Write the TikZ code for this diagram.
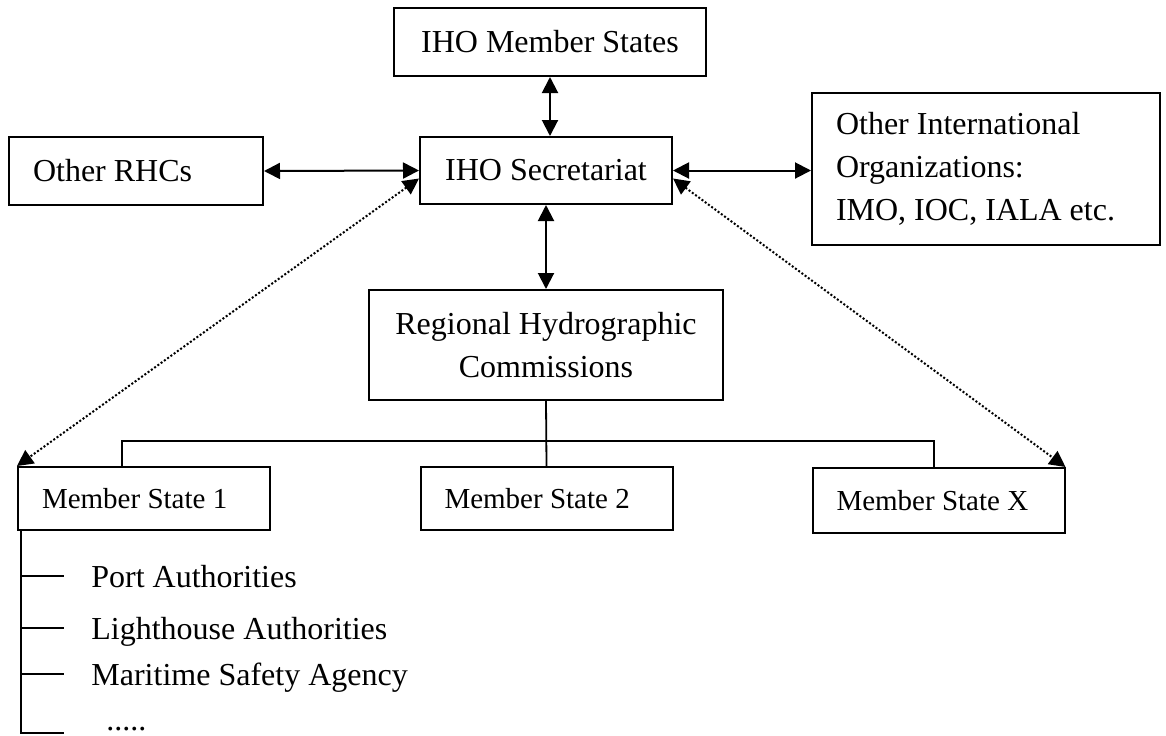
\documentclass[tikz,border=0pt]{standalone}
\usepackage{fontspec}
\setmainfont{Liberation Serif}
\usetikzlibrary{arrows.meta}

\tikzset{
  box/.style={draw, line width=1pt, inner xsep=12pt, inner ysep=0pt,
    font=\fontsize{16}{21.5}\selectfont},
  leftbox/.style={box, align=flush left},
  statebox/.style={leftbox, text width=102pt, minimum height=31.5pt,
    font=\fontsize{14.5}{17}\selectfont},
  twoway/.style={line width=1pt,
    {Triangle[length=8pt,width=8pt]}-{Triangle[length=8pt,width=8pt]}},
  dotlink/.style={twoway, dash pattern=on 1pt off 1pt},
  treeline/.style={line width=0.9pt},
  item/.style={inner sep=0pt, anchor=west, text height=11pt, text depth=0pt,
    font=\fontsize{16}{20}\selectfont}
}

\begin{document}
\begin{tikzpicture}[x=0.5pt, y=-0.5pt]
  \useasboundingbox (0,0) rectangle (1166,735);

  \node[box, minimum width=156pt, minimum height=34pt] (ihoms) at (550,42) {IHO Member States};
  \node[box, minimum width=126pt, minimum height=33.5pt] (sec) at (546,170.5) {IHO Secretariat};
  \node[leftbox, text width=103pt, minimum height=34pt] (rhcs) at (136,171) {Other RHCs};
  \node[leftbox, text width=150pt, minimum height=76pt] (orgs) at (986,169)
    {Other International\\Organizations:\\IMO, IOC, IALA etc.};
  \node[box, align=center, minimum width=177pt, minimum height=55pt] (rhc) at (546,345)
    {Regional Hydrographic\\Commissions};
  \node[statebox] (ms1) at (144,498.5) {Member State 1};
  \node[statebox] (ms2) at (546.5,498.5) {Member State 2};
  \node[statebox, minimum height=32.5pt] (msx) at (938.5,500.5) {Member State X};

  \path (ihoms.south) edge[twoway] (ihoms.south |- sec.north)
        (sec.south) edge[twoway] (rhc.north)
        (rhcs.east) edge[twoway] (sec.west)
        (sec.east) edge[twoway] (sec.east -| orgs.west)
        ([yshift=-4pt]sec.west) edge[dotlink] (ms1.north west)
        ([yshift=-4pt]sec.east) edge[dotlink] (msx.north east);

  % tree below the commissions
  \coordinate (bus) at (546,441);
  \draw[treeline] (rhc.south) -- (ms2.north);
  \draw[treeline] ([xshift=-11pt]ms1.north) |- (bus) -| ([xshift=-2.25pt]msx.north);

  % national bodies
  \node[item] (port) at (91,576) {Port Authorities};
  \node[item] (light) at (91,628) {Lighthouse Authorities};
  \node[item] (safety) at (91,674) {Maritime Safety Agency};
  \node[item] (more) at (106,719) {.....};
  \coordinate (spine) at ([xshift=2pt]ms1.south west);
  \draw[line width=1pt] (spine) |- ++(21.5pt,-101pt);
  \foreach \n in {port, light, safety}
    \draw[line width=1pt] (spine |- \n.west) -- ++(21.5pt,0);
\end{tikzpicture}
\end{document}
